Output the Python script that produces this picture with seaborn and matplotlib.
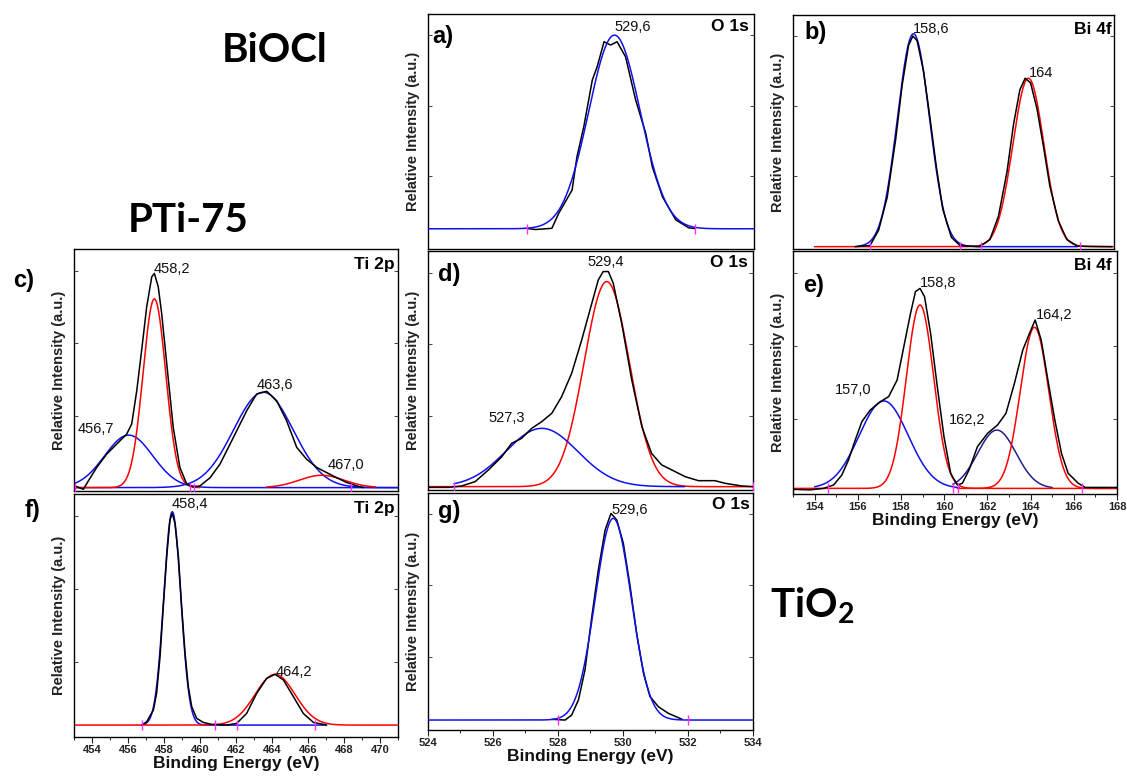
import numpy as np
import matplotlib
matplotlib.use("Agg")
import matplotlib.pyplot as plt
from matplotlib.ticker import MultipleLocator
import seaborn as sns

sns.set_theme(style="white")
plt.rcParams['font.family'] = ['Liberation Sans', 'DejaVu Sans']
plt.rcParams['mathtext.fontset'] = 'custom'
plt.rcParams['mathtext.rm'] = 'Lato:bold'
plt.rcParams['mathtext.bf'] = 'Lato:bold'
plt.rcParams['text.color'] = 'black'
plt.rcParams['axes.labelcolor'] = 'black'
plt.rcParams['xtick.color'] = 'black'
plt.rcParams['ytick.color'] = 'black'

W, H = 1127, 779

# ---------------- data ----------------
# panel a: BiOCl O 1s
a_E = [527.05, 527.3, 527.8, 528.01, 528.42, 528.57, 528.78, 529.04, 529.19, 529.4,
       529.6, 529.8, 530.06, 530.37, 530.68, 530.88, 531.19, 531.6, 532.0, 532.2]
a_I = [0.087, 0.083, 0.088, 0.152, 0.251, 0.393, 0.521, 0.719, 0.776, 0.882,
       0.868, 0.882, 0.818, 0.634, 0.492, 0.350, 0.223, 0.124, 0.090, 0.087]
a_base = 0.086
a_centers = [529.72]
a_heights = [0.824]
a_fwhm = [1.86]
a_ranges = [(524.0, 534.0)]
a_marks = [527.05, 532.2]

# panel b: BiOCl Bi 4f
b_E = [155.9, 156.6, 157.0, 157.4, 157.8, 158.1, 158.4, 158.6, 158.8, 159.1, 159.4,
       159.7, 160.0, 160.4, 160.8, 161.7, 162.2, 162.6, 163.0, 163.3, 163.6, 163.85,
       164.1, 164.4, 164.7, 165.0, 165.4, 165.8, 166.3, 167.9]
b_I = [0.010, 0.015, 0.080, 0.220, 0.470, 0.700, 0.870, 0.910, 0.890, 0.760, 0.560,
       0.350, 0.170, 0.050, 0.015, 0.010, 0.040, 0.140, 0.330, 0.530, 0.680, 0.730,
       0.710, 0.600, 0.440, 0.270, 0.120, 0.040, 0.012, 0.010]
b_base = 0.010
b_centers = [164.0, 158.63]
b_heights = [0.72, 0.91]
b_fwhm = [1.71, 1.76]
b_ranges = [(154.0, 168.0), (156.0, 166.3)]
b_marks = [156.6, 160.8, 161.8, 166.4]

# panel c: PTi-75 Ti 2p
c_E = [454.25, 454.66, 454.91, 455.32, 455.81, 456.31, 456.80, 457.05, 457.30, 457.54,
       457.79, 458.04, 458.17, 458.36, 458.53, 458.78, 459.10, 459.43, 459.77, 460.09,
       460.42, 460.92, 461.41, 462.07, 462.73, 463.22, 463.72, 464.21, 464.70, 465.20,
       465.69, 466.19, 466.68, 467.17, 467.67, 468.16, 468.49]
c_I = [0.021, 0.007, 0.042, 0.097, 0.152, 0.194, 0.235, 0.277, 0.415, 0.581,
       0.761, 0.885, 0.899, 0.844, 0.733, 0.526, 0.263, 0.097, 0.028, 0.017,
       0.021, 0.055, 0.111, 0.221, 0.332, 0.401, 0.412, 0.373, 0.290, 0.180,
       0.131, 0.097, 0.076, 0.055, 0.035, 0.021, 0.014]
c_base = 0.014
c_centers = [456.9, 463.55, 458.17, 466.43]
c_heights = [0.217, 0.394, 0.78, 0.051]
c_fwhm = [2.8, 3.46, 1.32, 2.6]
c_ranges = [(454.2, 470.2), (454.2, 470.2), (454.2, 460.4), (463.7, 469.1)]
c_marks = [454.25, 459.95, 460.15, 467.9]

# panel d: PTi-75 O 1s
d_E = [524.01, 524.63, 525.04, 525.45, 525.86, 526.27, 526.57, 526.88, 527.19, 527.50,
       527.81, 528.11, 528.42, 528.73, 529.04, 529.24, 529.39, 529.55, 529.70, 529.96,
       530.27, 530.58, 530.88, 531.19, 531.50, 531.91, 532.32, 532.83, 533.14, 533.65,
       534.0]
d_I = [0.011, 0.011, 0.017, 0.035, 0.084, 0.139, 0.195, 0.216, 0.258, 0.286,
       0.321, 0.390, 0.488, 0.628, 0.781, 0.879, 0.914, 0.914, 0.865, 0.697,
       0.460, 0.265, 0.153, 0.105, 0.084, 0.056, 0.039, 0.039, 0.028, 0.017,
       0.014]
d_base = 0.014
d_centers = [529.5, 527.5]
d_heights = [0.858, 0.244]
d_fwhm = [1.64, 2.6]
d_ranges = [(524.0, 534.0), (524.8, 531.9)]
d_marks = [524.8, 534.0]

# panel e: PTi-75 Bi 4f
e_E = [153.02, 153.79, 154.41, 154.88, 155.26, 155.57, 155.88, 156.19, 156.58, 157.05,
       157.43, 157.82, 158.13, 158.44, 158.67, 158.88, 159.09, 159.37, 159.68, 159.99,
       160.30, 160.61, 160.84, 161.15, 161.54, 162.01, 162.47, 162.86, 163.25, 163.64,
       163.95, 164.21, 164.49, 164.80, 165.12, 165.43, 165.74, 166.21, 166.53, 168.0]
e_I = [0.019, 0.017, 0.023, 0.037, 0.078, 0.140, 0.222, 0.298, 0.346, 0.380,
       0.401, 0.469, 0.606, 0.743, 0.833, 0.846, 0.812, 0.661, 0.442, 0.236,
       0.085, 0.037, 0.044, 0.099, 0.195, 0.250, 0.284, 0.332, 0.455, 0.593,
       0.661, 0.716, 0.634, 0.469, 0.305, 0.167, 0.085, 0.044, 0.027, 0.027]
e_base = 0.023
e_centers = [157.2, 162.44, 158.88, 164.18]
e_heights = [0.36, 0.24, 0.755, 0.663]
e_fwhm = [2.67, 2.09, 1.49, 1.55]
e_ranges = [(154.0, 160.7), (160.4, 165.0), (153.0, 168.0), (160.6, 168.0)]
e_marks = [154.6, 160.4, 160.65, 166.4]
e_ticks = [154, 156, 158, 160, 162, 164, 166, 168]

# panel f: TiO2 Ti 2p
f_E = [456.76, 457.04, 457.41, 457.59, 457.78, 457.96, 458.15, 458.33, 458.46, 458.61,
       458.80, 458.98, 459.17, 459.35, 459.54, 459.81, 460.18, 460.65, 461.48, 462.04,
       462.59, 463.15, 463.70, 464.17, 464.63, 465.19, 465.74, 466.30, 467.04]
f_I = [0.049, 0.063, 0.111, 0.180, 0.331, 0.536, 0.742, 0.893, 0.920, 0.879,
       0.742, 0.536, 0.344, 0.207, 0.125, 0.077, 0.060, 0.052, 0.049, 0.056,
       0.097, 0.180, 0.241, 0.258, 0.235, 0.166, 0.097, 0.060, 0.049]
f_base = 0.049
f_centers = [458.46, 464.17]
f_heights = [0.878, 0.209]
f_fwhm = [1.11, 2.6]
f_ranges = [(456.8, 467.0), (453.0, 471.0)]
f_marks = [456.8, 460.85, 462.05, 466.4]
f_ticks = [454, 456, 458, 460, 462, 464, 466, 468, 470]

# panel g: TiO2 O 1s
g_E = [527.81, 528.22, 528.42, 528.63, 528.83, 529.04, 529.24, 529.45, 529.63, 529.81,
       530.01, 530.22, 530.42, 530.63, 530.83, 531.09, 531.40, 531.82]
g_I = [0.045, 0.042, 0.063, 0.127, 0.253, 0.478, 0.675, 0.844, 0.914, 0.886,
       0.788, 0.605, 0.408, 0.239, 0.141, 0.098, 0.070, 0.045]
g_base = 0.042
g_centers = [529.70]
g_heights = [0.851]
g_fwhm = [1.30]
g_ranges = [(524.0, 534.0)]
g_marks = [528.0, 532.0]
g_ticks = [524, 526, 528, 530, 532, 534]

# peak labels (text, energy, relative height)
a_labels = [("529,6", 529.72, 0.945)]
b_labels = [("158,6", 158.6, 0.94), ("164", 164.03, 0.752)]
c_labels = [("458,2", 458.15, 0.917), ("456,7", 454.4, 0.257),
            ("463,6", 463.24, 0.436), ("467,0", 466.74, 0.108)]
d_labels = [("529,4", 528.92, 0.954), ("527,3", 525.85, 0.30)]
e_labels = [("158,8", 158.86, 0.868), ("164,2", 164.26, 0.737),
            ("157,0", 154.95, 0.428), ("162,2", 160.2, 0.305)]
f_labels = [("458,4", 458.44, 0.959), ("464,2", 464.22, 0.267)]
g_labels = [("529,6", 529.63, 0.928)]

# ---------------- styling / layout ----------------
BLUE, RED, NAVY, MAG = "#1010ee", "#ff0000", "#202090", "#ff30ff"

panels = [
    dict(box=(428, 14, 754, 249), xlim=(524, 534), E=a_E, I=a_I, base=a_base,
         cen=a_centers, hts=a_heights, fw=a_fwhm, rng=a_ranges, cols=[BLUE],
         marks=a_marks, labels=a_labels, letter="a)", let_pos=(0.012, 0.906),
         elem="O 1s", elem_pos=(0.985, 0.945), ticks=None, fit_on_top=True),
    dict(box=(793, 15, 1114, 249), xlim=(153, 168), E=b_E, I=b_I, base=b_base,
         cen=b_centers, hts=b_heights, fw=b_fwhm, rng=b_ranges, cols=[RED, BLUE],
         marks=b_marks, labels=b_labels, letter="b)", let_pos=(0.037, 0.927),
         elem="Bi 4f", elem_pos=(0.992, 0.94), ticks=None, fit_on_top=False),
    dict(box=(74, 249, 398, 491), xlim=(454.2, 470.2), E=c_E, I=c_I, base=c_base,
         cen=c_centers, hts=c_heights, fw=c_fwhm, rng=c_ranges,
         cols=[BLUE, BLUE, RED, RED],
         marks=c_marks, labels=c_labels, letter=None, let_pos=None,
         elem="Ti 2p", elem_pos=(0.99, 0.934), ticks=None, fit_on_top=False),
    dict(box=(428, 251, 753, 490), xlim=(524, 534), E=d_E, I=d_I, base=d_base,
         cen=d_centers, hts=d_heights, fw=d_fwhm, rng=d_ranges, cols=[RED, BLUE],
         marks=d_marks, labels=d_labels, letter="d)", let_pos=(0.03, 0.90),
         elem="O 1s", elem_pos=(0.985, 0.95), ticks=None, fit_on_top=False),
    dict(box=(793, 251, 1117, 494), xlim=(153, 168), E=e_E, I=e_I, base=e_base,
         cen=e_centers, hts=e_heights, fw=e_fwhm, rng=e_ranges,
         cols=[BLUE, NAVY, RED, RED],
         marks=e_marks, labels=e_labels, letter="e)", let_pos=(0.03, 0.86),
         elem="Bi 4f", elem_pos=(0.983, 0.94), ticks=e_ticks, fit_on_top=False),
    dict(box=(74, 494, 398, 737), xlim=(453, 471), E=f_E, I=f_I, base=f_base,
         cen=f_centers, hts=f_heights, fw=f_fwhm, rng=f_ranges, cols=[BLUE, RED],
         marks=f_marks, labels=f_labels, letter=None, let_pos=None,
         elem="Ti 2p", elem_pos=(0.99, 0.94), ticks=f_ticks, fit_on_top=False),
    dict(box=(428, 493, 753, 730), xlim=(524, 534), E=g_E, I=g_I, base=g_base,
         cen=g_centers, hts=g_heights, fw=g_fwhm, rng=g_ranges, cols=[BLUE],
         marks=g_marks, labels=g_labels, letter="g)", let_pos=(0.03, 0.92),
         elem="O 1s", elem_pos=(0.99, 0.95), ticks=g_ticks, fit_on_top=True),
]


def gauss(x, c, h, fw, base):
    return base + h * np.exp(-4.0 * np.log(2.0) * (x - c) ** 2 / fw ** 2)


fig = plt.figure(figsize=(W / 100, H / 100), dpi=100)
fig.patch.set_facecolor("white")

for p in panels:
    l, t, r, b = p["box"]
    ax = fig.add_axes([l / W, 1 - b / H, (r - l) / W, (b - t) / H])
    ax.set_facecolor("white")
    z_fit, z_dat = (3, 2) if p["fit_on_top"] else (2, 3)
    # fitted components
    for c, h, fw, (x0, x1), col in zip(p["cen"], p["hts"], p["fw"], p["rng"], p["cols"]):
        xx = np.linspace(x0, x1, 400)
        sns.lineplot(x=xx, y=gauss(xx, c, h, fw, p["base"]), ax=ax, color=col,
                     lw=1.1, estimator=None, legend=False, zorder=z_fit)
    # experimental spectrum
    sns.lineplot(x=p["E"], y=p["I"], ax=ax, color="black", lw=1.1,
                 estimator=None, sort=False, legend=False, zorder=z_dat)
    # baseline limit marks
    ax.plot(p["marks"], [p["base"]] * len(p["marks"]), ls="none", marker="|",
            ms=7, mew=1.0, color=MAG, zorder=5)
    # peak labels
    for txt, xe, yy in p["labels"]:
        ax.text(xe, yy, txt, fontsize=10.5, color="#111111", ha="left", va="center")
    if p["letter"]:
        ax.text(p["let_pos"][0], p["let_pos"][1], p["letter"], transform=ax.transAxes,
                fontsize=17, fontweight="bold", ha="left", va="center", color="black")
    ax.text(p["elem_pos"][0], p["elem_pos"][1], p["elem"], transform=ax.transAxes,
            fontsize=12.5, fontweight="bold", ha="right", va="center", color="black")

    ax.set_xlim(*p["xlim"])
    ax.set_ylim(0, 1)
    ax.set_yticks([0.31, 0.61, 0.91])
    ax.set_yticklabels([])
    ax.tick_params(axis="y", direction="in", length=3, width=0.7, left=True,
                   right=True, color="#444444")
    ax.set_ylabel("Relative Intensity (a.u.)", fontsize=10.5, fontweight="bold",
                  color="#222222")
    ax.yaxis.set_label_coords(-8.0 / (r - l), 0.5)
    if p["ticks"] is None:
        ax.set_xticks([])
        ax.set_xlabel("")
    else:
        ax.set_xticks(p["ticks"])
        ax.set_xticklabels([str(v) for v in p["ticks"]], fontsize=8,
                           fontweight="bold", color="#222222")
        ax.xaxis.set_minor_locator(MultipleLocator(1))
        ax.tick_params(axis="x", which="major", direction="out", length=4,
                       width=0.8, bottom=True, pad=1.5, color="#222222")
        ax.tick_params(axis="x", which="minor", direction="out", length=2.5,
                       width=0.7, bottom=True, color="#222222")
        ax.set_xlabel("Binding Energy (eV)", fontsize=12.5, fontweight="bold",
                      color="#111111", labelpad=1)
    for s in ax.spines.values():
        s.set_color("black")
        s.set_linewidth(1.0)

# panel letters placed outside the axes
fig.text(13 / W, 1 - 280 / H, "c)", fontsize=17, fontweight="bold", ha="left",
         va="center", color="black")
fig.text(25 / W, 1 - 511 / H, "f)", fontsize=17, fontweight="bold", ha="left",
         va="center", color="black")

# sample names
fig.text(222 / W, 1 - 62 / H, "BiOCl", fontsize=29, fontweight="bold", color="black",
         family=["Lato", "DejaVu Sans"], ha="left", va="baseline")
fig.text(128 / W, 1 - 232 / H, "PTi-75", fontsize=29, fontweight="bold", color="black",
         family=["Lato", "DejaVu Sans"], ha="left", va="baseline")
fig.text(770 / W, 1 - 617 / H, r"TiO$_{2}$", fontsize=29, fontweight="bold",
         color="black", family=["Lato", "DejaVu Sans"], ha="left", va="baseline")

fig.savefig("out.png", dpi=100, facecolor="white")
